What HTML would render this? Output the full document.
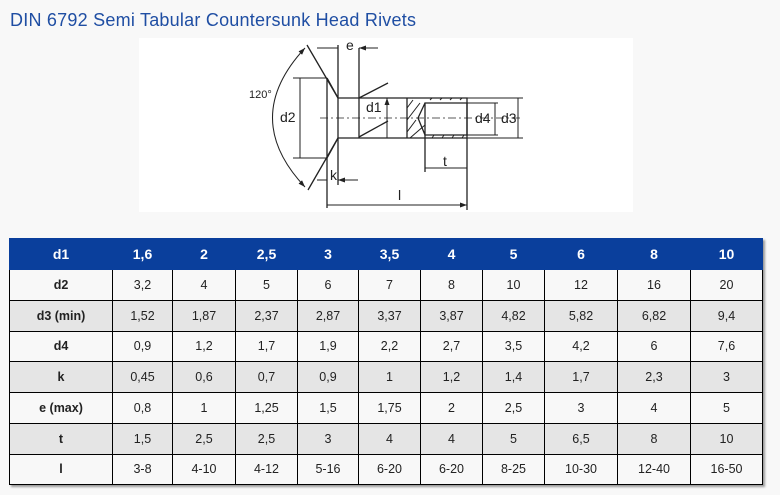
<!DOCTYPE html>
<html><head><meta charset="utf-8"><style>
body{margin:0;width:780px;height:495px;background:#f8f8f8;overflow:hidden;font-family:"Liberation Sans",sans-serif;position:relative}
#dia{position:absolute;left:139px;top:38px;width:494px;height:174px;background:#fff}
table{position:absolute;left:9px;top:238px;border-collapse:collapse;box-shadow:2px 2px 2px #999;font-size:12.5px;color:#222}
td{border:1px solid #000;text-align:center;padding:0;height:29.75px}
tr.h td{background:#0a3f9c;color:#fff;font-weight:bold;font-size:14px;height:30px;border-color:#0a3f9c}
tr.g td{background:#e5e5e5}
td:first-child{font-weight:bold}
</style></head><body>
<svg width="780" height="40" style="position:absolute;left:0;top:0"><text x="10" y="26" font-size="18" fill="#1f4ea3" textLength="406" font-family="Liberation Sans, sans-serif">DIN 6792 Semi Tabular Countersunk Head Rivets</text></svg>
<div id="dia"></div>
<svg width="780" height="230" style="position:absolute;left:0;top:0" font-family="Liberation Sans, sans-serif" font-size="14" fill="#222">
<defs><marker id="a" markerWidth="7" markerHeight="5" refX="7" refY="2.5" orient="auto-start-reverse" markerUnits="userSpaceOnUse"><path d="M0,0 L7,2.5 L0,5z" fill="#222"/></marker></defs>
<g stroke="#222" stroke-width="1.3" fill="none">
<path d="M327,78 L327,158 M327,78 L338,98 L467,98 L467,138 L338,138 L327,158"/>
<path d="M307,45 L338,98 M338,138 L308,190"/>
<path d="M338,45 V185 M359,48 V138 M327,158 V208 M467,138 V210 M425,135 V172"/>
<path d="M359,98 L388,83 M359,137 L388,121"/>
<path d="M407,98 V138 M425,103 H467 V135 H425 Z M425,103 L418,118 L425,135"/>
<path d="M407,108 L413,100 M407,120 L420,103 M407,132 L416,120 M410,138 L425,125 M430,100 L432,98 M440,100 L442,98 M450,100 L452,98 M460,100 L462,98 M432,138 L434,135 M442,138 L444,135 M452,138 L454,135 M462,138 L464,135" stroke-width="1"/>
<path d="M467,98 H523 M467,138 H523 M467,103 H498 M467,135 H498 M293,78 H327 M293,158 H327" stroke-width="1"/>
<path d="M320,118 H523" stroke-width="0.8" stroke-dasharray="8,3,2,3"/>
<path d="M317,48 H338 M378,48 H359" stroke-width="1" marker-end="url(#a)"/>
<path d="M317,180 H327 M358,180 H338" stroke-width="1" marker-end="url(#a)"/>
<path d="M387,98 V138 M300,78 V158 M495,103 V135 M518,98 V138 M425,168 H467 M327,205 H467" stroke-width="1" marker-start="url(#a)" marker-end="url(#a)"/>
<path d="M305,48 Q240,118 305,187" stroke-width="1" marker-start="url(#a)" marker-end="url(#a)"/>
</g>
<text x="346" y="50">e</text>
<text x="366" y="112">d1</text>
<text x="280" y="122">d2</text>
<text x="249" y="98" font-size="11">120°</text>
<text x="475" y="123">d4</text>
<text x="501" y="123">d3</text>
<text x="330" y="180">k</text>
<text x="443" y="166">t</text>
<text x="398" y="200">l</text>
</svg>
<table>
<colgroup><col style="width:103px"><col style="width:60px"><col style="width:63px"><col style="width:62px"><col style="width:61px"><col style="width:62px"><col style="width:62px"><col style="width:62px"><col style="width:73px"><col style="width:73px"><col style="width:72px"></colgroup>
<tr class="h"><td>d1</td><td>1,6</td><td>2</td><td>2,5</td><td>3</td><td>3,5</td><td>4</td><td>5</td><td>6</td><td>8</td><td>10</td></tr>
<tr><td>d2</td><td>3,2</td><td>4</td><td>5</td><td>6</td><td>7</td><td>8</td><td>10</td><td>12</td><td>16</td><td>20</td></tr>
<tr class="g"><td>d3 (min)</td><td>1,52</td><td>1,87</td><td>2,37</td><td>2,87</td><td>3,37</td><td>3,87</td><td>4,82</td><td>5,82</td><td>6,82</td><td>9,4</td></tr>
<tr><td>d4</td><td>0,9</td><td>1,2</td><td>1,7</td><td>1,9</td><td>2,2</td><td>2,7</td><td>3,5</td><td>4,2</td><td>6</td><td>7,6</td></tr>
<tr class="g"><td>k</td><td>0,45</td><td>0,6</td><td>0,7</td><td>0,9</td><td>1</td><td>1,2</td><td>1,4</td><td>1,7</td><td>2,3</td><td>3</td></tr>
<tr><td>e (max)</td><td>0,8</td><td>1</td><td>1,25</td><td>1,5</td><td>1,75</td><td>2</td><td>2,5</td><td>3</td><td>4</td><td>5</td></tr>
<tr class="g"><td>t</td><td>1,5</td><td>2,5</td><td>2,5</td><td>3</td><td>4</td><td>4</td><td>5</td><td>6,5</td><td>8</td><td>10</td></tr>
<tr><td>l</td><td>3-8</td><td>4-10</td><td>4-12</td><td>5-16</td><td>6-20</td><td>6-20</td><td>8-25</td><td>10-30</td><td>12-40</td><td>16-50</td></tr>
</table>
</body></html>
